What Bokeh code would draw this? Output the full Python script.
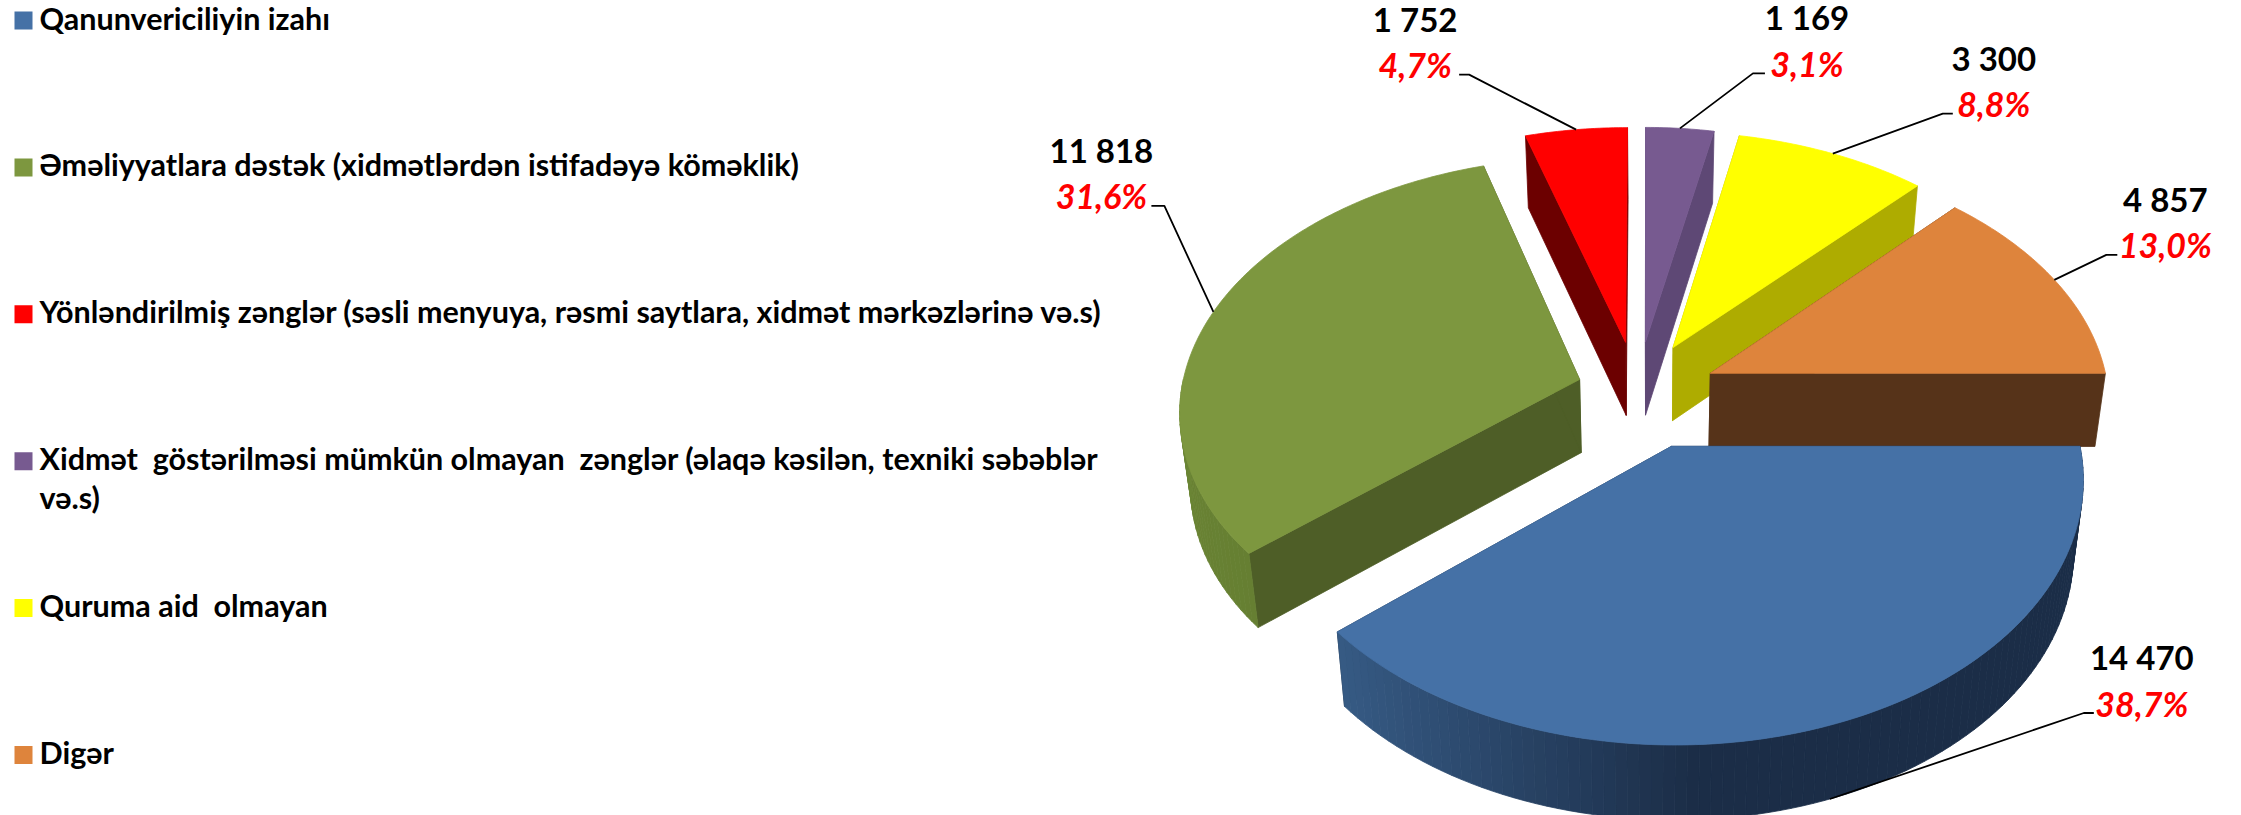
import math
from bokeh.plotting import figure
from bokeh.models import Range1d
from bokeh.core.properties import value
from bokeh.embed import file_html
from bokeh.resources import INLINE

# ---- data ----
categories = [
    "Qanunvericiliyin izahı",
    "Əməliyyatlara dəstək (xidmətlərdən istifadəyə köməklik)",
    "Yönləndirilmiş zənglər (səsli menyuya, rəsmi saytlara, xidmət mərkəzlərinə və.s)",
    "Xidmət\u00a0 göstərilməsi mümkün olmayan\u00a0 zənglər (əlaqə kəsilən, texniki səbəblər\nvə.s)",
    "Quruma aid\u00a0 olmayan",
    "Digər",
]
counts = [14470, 11818, 1752, 1169, 3300, 4857]
count_labels = ["14 470", "11 818", "1 752", "1 169", "3 300", "4 857"]
pct_labels = ["38,7%", "31,6%", "4,7%", "3,1%", "8,8%", "13,0%"]

# ---- style ----
top_colors = ["#4571A6", "#7D973F", "#FF0000", "#775A90", "#FFFF00", "#DE843C"]
wall_colors = ["#1B2D47", "#4E5E27", "#6C0000", "#5E4875", "#AEAC00", "#563319"]
FONT = "Lato"
LEGEND_SIZE = "30.5px"
NUMBER_SIZE = "33px"
PCT_SIZE = "34px"

# ---- layout / projection of the exploded perspective pie ----
W, H = 2241, 815
CX, CY = 1646.0, 394.0
RX, RY = 399.0, 251.0
PERSP = 0.116
EX, EY = 0.176, 0.215
VX, SHRINK = 1650.0, 0.977
shift_x = [0, 0, -11, -8, -5, 0]
draw_order = [2, 3, 4, 1, 5, 0]
# leader elbow and end, relative to the rim anchor; label centres relative to the end
elbow = [(254, -86), (-49, -106), (-107, -55), (73, -55), (110, -40), (52, -25)]
stub = [10, -13, -10, 12, 10, 11]
label_dx = [48, -50, -44, 42, 41, 48]
label_dy = -10
number_gap = -46
anchor_on_bottom = [True, False, False, False, False, False]

total = sum(counts)
edges = [0.0]
for c in counts:
    edges.append(edges[-1] + 360.0 * c / total)


def project(i, theta=None):
    mid = math.radians((edges[i] + edges[i + 1]) / 2)
    X = EX * math.cos(mid)
    Y = EY * math.sin(mid)
    if theta is not None:
        t = math.radians(theta)
        X += math.cos(t)
        Y += math.sin(t)
    w = 1 / (1 - PERSP * Y)
    return CX + shift_x[i] + RX * X * w, CY + RY * Y * w


def lower(pt):
    x, y = pt
    return VX + SHRINK * (x - VX), y + 72 + (y - 130) * 3 / 610


def arc(i, a, b, step=0.75):
    n = max(2, int(abs(b - a) / step))
    return [project(i, a + (b - a) * k / n) for k in range(n + 1)]


def mix(c1, c2, f):
    f = max(0.0, min(1.0, f))
    a = [int(c1[j:j + 2], 16) for j in (1, 3, 5)]
    b = [int(c2[j:j + 2], 16) for j in (1, 3, 5)]
    return "#%02x%02x%02x" % tuple(round(a[j] + (b[j] - a[j]) * f) for j in range(3))


p = figure(width=W, height=H, output_backend="svg", toolbar_location=None,
           x_range=Range1d(0, W), y_range=Range1d(H, 0),
           min_border=0, outline_line_color=None, background_fill_color="white")
p.axis.visible = False
p.grid.visible = False


def poly(pts, color):
    p.patch([q[0] for q in pts], [q[1] for q in pts], fill_color=color,
            line_color=color, line_width=0.8)


for i in draw_order:
    a, b = edges[i], edges[i + 1]
    apex = project(i)
    # radial walls
    for th in (a, b):
        rim = project(i, th)
        poly([apex, rim, lower(rim), lower(apex)], wall_colors[i])
    # outer wall, seen only on the near half
    lo, hi = max(a, 0.0), min(b, 180.0)
    if hi > lo:
        n = int((hi - lo) / 1.5) + 1
        for k in range(n):
            t0 = lo + (hi - lo) * k / n
            t1 = lo + (hi - lo) * (k + 1) / n
            q0, q1 = project(i, t0), project(i, t1)
            if i == 0:
                col = mix("#365A84", "#1B2D47", (q0[0] - 1340) / 360)
            elif i == 1:
                col = mix("#6C8636", "#637C30", (q0[1] - 400) / 220)
            else:
                col = wall_colors[i]
            poly([q0, q1, lower(q1), lower(q0)], col)
    # top face
    poly([apex] + arc(i, a, b), top_colors[i])

# leaders and labels
for i in range(len(counts)):
    mid = (edges[i] + edges[i + 1]) / 2
    anchor = project(i, mid)
    if anchor_on_bottom[i]:
        anchor = lower(anchor)
    ex, ey = anchor[0] + elbow[i][0], anchor[1] + elbow[i][1]
    endx = ex + stub[i]
    p.line([anchor[0], ex, endx], [anchor[1], ey, ey], line_color="black", line_width=1.8)
    p.text([endx + label_dx[i]], [ey + label_dy], text=[pct_labels[i]], text_color="#FF0000",
           text_font=value(FONT), text_font_size=PCT_SIZE, text_font_style="bold italic",
           text_align="center", text_baseline="middle")
    p.text([endx + label_dx[i]], [ey + label_dy + number_gap], text=[count_labels[i]],
           text_color="black", text_font=value(FONT), text_font_size=NUMBER_SIZE,
           text_font_style="bold", text_align="center", text_baseline="middle")

# legend
legend_top = 20.0
legend_step = 146.9
legend_x = 14.0
for i, name in enumerate(categories):
    yc = legend_top + legend_step * i
    p.quad(left=[legend_x], right=[legend_x + 18], top=[yc - 9], bottom=[yc + 9],
           fill_color=top_colors[i], line_color=None)
    for j, line in enumerate(name.split("\n")):
        p.text([legend_x + 25], [yc - 3 + j * 39], text=[line], text_color="black",
               text_font=value(FONT), text_font_size=LEGEND_SIZE, text_font_style="bold",
               text_align="left", text_baseline="middle")

open("out.html", "w").write(file_html(p, INLINE))
